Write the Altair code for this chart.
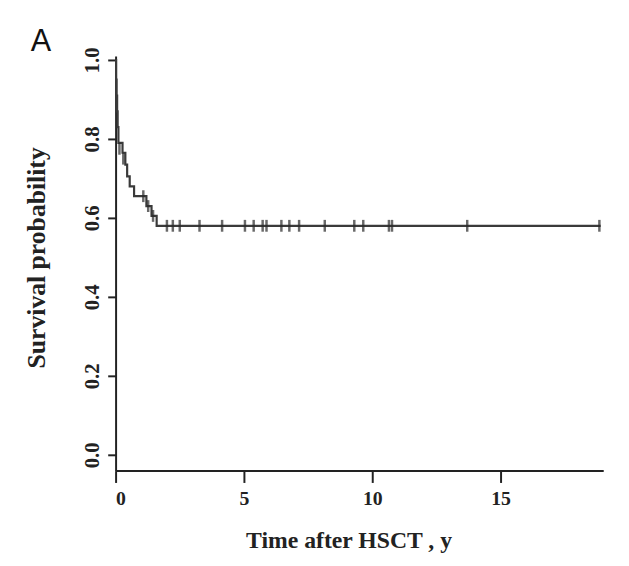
import altair as alt
import pandas as pd

# Kaplan-Meier step curve (time in years, survival probability)
step_times = [0, 0.02, 0.04, 0.06, 0.08, 0.11, 0.27, 0.38, 0.45, 0.55, 0.72, 1.2, 1.4, 1.6, 18.9]
step_surv = [1.0, 0.95, 0.91, 0.87, 0.83, 0.79, 0.765, 0.735, 0.705, 0.68, 0.655, 0.63, 0.605, 0.58, 0.58]

# censored observations
cens_times = [0.15, 0.3, 1.08, 1.27, 1.46, 2.0, 2.23, 2.5, 3.27, 4.15, 5.04, 5.38, 5.73, 5.88,
              6.46, 6.77, 7.15, 8.15, 9.3, 9.65, 10.65, 10.77, 13.7, 18.85]
cens_surv = [0.775, 0.75, 0.655, 0.63, 0.605] + [0.58] * 19

x_ticks = [0, 5, 10, 15]
y_ticks = [0.0, 0.2, 0.4, 0.6, 0.8, 1.0]

curve = pd.DataFrame({"t": step_times, "s": step_surv})
cens = pd.DataFrame({"t": cens_times, "s": cens_surv})

serif = "Liberation Serif"

x_enc = alt.X("t:Q", scale=alt.Scale(domain=[0, 19], nice=False, zero=False),
              axis=alt.Axis(values=x_ticks, title="Time after HSCT , y", grid=False,
                            domainColor="#222", domainWidth=2, tickColor="#222", tickWidth=2,
                            tickSize=12, labelFont=serif, labelFontWeight="bold", labelFontSize=20,
                            labelColor="#222", labelPadding=6, titleFont=serif, titleFontWeight="bold",
                            titleFontSize=24, titleColor="#222", titleBaseline="alphabetic",
                            titleY=78, titleX=236, titleAlign="center"))
y_enc = alt.Y("s:Q", scale=alt.Scale(domain=[-0.04, 1.01], nice=False, zero=False),
              axis=alt.Axis(values=y_ticks, format=".1f", title="Survival probability", grid=False,
                            domainColor="#222", domainWidth=2, tickColor="#222", tickWidth=2,
                            tickSize=8, labelFont=serif, labelFontWeight="bold", labelFontSize=21,
                            labelColor="#222", labelAngle=270, labelAlign="center",
                            labelBaseline="alphabetic", labelPadding=9, titleFont=serif,
                            titleFontWeight="bold", titleFontSize=26, titleColor="#222",
                            titleAngle=270, titleBaseline="alphabetic", titleX=-72, titleY=204,
                            titleAlign="center"))

line = alt.Chart(curve).mark_line(interpolate="step-after", color="#3a3a3a", strokeWidth=2.2).encode(
    x=x_enc, y=y_enc)
ticks = alt.Chart(cens).mark_tick(orient="vertical", color="#2a2a2a", size=12, thickness=2.5).encode(
    x="t:Q", y="s:Q")

chart = alt.layer(line, ticks).properties(
    width=494, height=420,
    autosize=alt.AutoSizeParams(type="none"),
    padding={"left": 109, "top": 45, "right": 18, "bottom": 93},
    background="white",
    title=alt.TitleParams("A", anchor="start", frame="group", dx=-86, dy=35, offset=0,
                          font="Liberation Sans", fontSize=31, fontWeight="normal",
                          color="#111", baseline="alphabetic"),
).configure_view(stroke=None)

chart.save("out.html", embed_options={"renderer": "svg", "actions": False})
